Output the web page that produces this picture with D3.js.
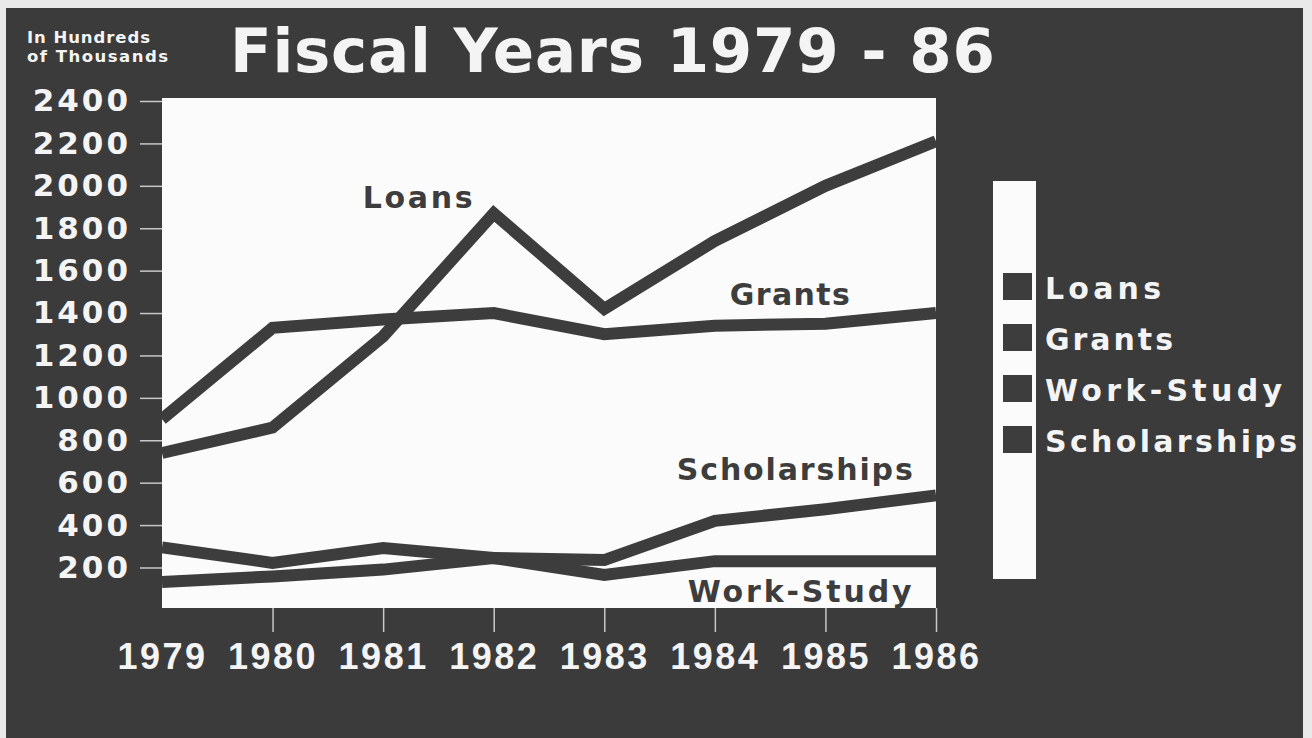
<!DOCTYPE html>
<html><head><meta charset="utf-8">
<script src="https://cdn.jsdelivr.net/npm/d3@7"></script>
<style>html,body{margin:0;padding:0;background:#3b3b3b;}svg{display:block;}</style>
</head><body>
<svg id="chart" width="1312" height="738"></svg>
<script>
// ---- data ----
const years = [1979, 1980, 1981, 1982, 1983, 1984, 1985, 1986];
const loans = [740, 860, 1290, 1870, 1420, 1740, 2000, 2210];
const grants = [900, 1330, 1370, 1400, 1300, 1340, 1350, 1400];
const workStudy = [295, 222, 292, 245, 165, 230, 230, 230];
const scholarships = [132, 158, 190, 245, 235, 420, 475, 540];
const seriesNames = ["Loans", "Grants", "Work-Study", "Scholarships"];
const yTickValues = [200, 400, 600, 800, 1000, 1200, 1400, 1600, 1800, 2000, 2200, 2400];
const titleText = "Fiscal Years 1979 - 86";
const unitLines = ["In Hundreds", "of Thousands"];

const series = [
  {name: seriesNames[0], values: loans},
  {name: seriesNames[1], values: grants},
  {name: seriesNames[2], values: workStudy},
  {name: seriesNames[3], values: scholarships}
];

// ---- layout ----
const W = 1312, H = 738;
const bg = "#3b3b3b", ink = "#3d3d3d", paper = "#fbfbfb", light = "#f4f4f4";
const plot = {left: 162, right: 936, top: 98, bottom: 608};
const boldFont = "'DejaVu Sans', sans-serif";

const svg = d3.select("#chart");
// frame
svg.append("rect").attr("width", W).attr("height", H).attr("fill", "#e9e9e9");
svg.append("rect").attr("x", 6).attr("y", 8).attr("width", 1297).attr("height", H - 8).attr("fill", bg);

const x = d3.scaleLinear().domain([1979, 1986]).range([plot.left, plot.right]);
const y = d3.scaleLinear().domain([0, 2400]).range([609.9, 101]);

// plot paper
svg.append("rect").attr("x", plot.left).attr("y", plot.top)
  .attr("width", plot.right - plot.left).attr("height", plot.bottom - plot.top)
  .attr("fill", paper);

// y axis
const yAxis = d3.axisLeft(y).tickValues(yTickValues).tickSize(22).tickPadding(12).tickFormat(d3.format("d"));
const gy = svg.append("g").attr("transform", `translate(${plot.left},0)`).call(yAxis);
gy.select(".domain").remove();
gy.selectAll(".tick line").attr("stroke", "#c8c8c8").attr("stroke-width", 1.5);
gy.selectAll(".tick text")
  .attr("fill", light).attr("x", -31)
  .style("font-family", boldFont).style("font-weight", "bold")
  .style("font-size", "31px").style("letter-spacing", "3px");

// x axis
const xAxis = d3.axisBottom(x).tickValues(years).tickSize(24).tickPadding(12).tickFormat(d3.format("d"));
const gx = svg.append("g").attr("transform", `translate(0,${plot.bottom})`).call(xAxis);
gx.select(".domain").remove();
gx.selectAll(".tick line").attr("stroke", "#c8c8c8").attr("stroke-width", 1.5)
  .attr("display", d => d === years[0] ? "none" : null);
gx.selectAll(".tick text")
  .attr("fill", light).attr("y", 61).attr("dy", 0)
  .style("font-family", "'Liberation Sans', Arial, sans-serif").style("font-weight", "bold")
  .style("font-size", "36px").style("letter-spacing", "2.5px");

// lines
const line = d3.line().x((d, i) => x(years[i])).y(d => y(d));
svg.append("g").selectAll("path").data(series).join("path")
  .attr("d", d => line(d.values))
  .attr("fill", "none").attr("stroke", ink).attr("stroke-width", 12)
  .attr("stroke-linejoin", "miter").attr("stroke-linecap", "butt");

// in-plot labels (positioned in data coordinates)
const annotations = [
  {text: seriesNames[0], yr: 1981.81, v: 1895, len: 110},
  {text: seriesNames[1], yr: 1985.22, v: 1438, len: 120},
  {text: seriesNames[3], yr: 1985.79, v: 613, len: 236},
  {text: seriesNames[2], yr: 1985.78, v: 36, len: 224}
];
svg.append("g").selectAll("text").data(annotations).join("text")
  .attr("x", d => x(d.yr) - d.len).attr("y", d => y(d.v))
  .attr("textLength", d => d.len).attr("lengthAdjust", "spacing")
  .attr("fill", ink)
  .style("font-family", boldFont).style("font-weight", "bold").style("font-size", "30px")
  .text(d => d.text);

// title
svg.append("text").attr("x", 230).attr("y", 72)
  .attr("textLength", 765).attr("lengthAdjust", "spacing")
  .attr("fill", light)
  .style("font-family", boldFont).style("font-weight", "bold").style("font-size", "61px")
  .text(titleText);

// units
svg.append("g").selectAll("text").data(unitLines).join("text")
  .attr("x", 27).attr("y", (d, i) => 43 + i * 19)
  .attr("textLength", (d, i) => i === 0 ? 123 : 141).attr("lengthAdjust", "spacing")
  .attr("fill", light)
  .style("font-family", boldFont).style("font-weight", "bold").style("font-size", "16.5px")
  .text(d => d);

// legend
const lg = svg.append("g");
lg.append("rect").attr("x", 993).attr("y", 181).attr("width", 43).attr("height", 398).attr("fill", paper);
const legItems = lg.selectAll("g.item").data(series).join("g").attr("class", "item")
  .attr("transform", (d, i) => `translate(0,${i * 51})`);
legItems.append("rect").attr("x", 1003).attr("y", 273).attr("width", 29).attr("height", 27).attr("fill", ink);
legItems.append("text").attr("x", 1045).attr("y", 299)
  .attr("textLength", d => ({"Loans": 116, "Grants": 128, "Work-Study": 237, "Scholarships": 252})[d.name])
  .attr("lengthAdjust", "spacing")
  .attr("fill", light)
  .style("font-family", boldFont).style("font-weight", "bold").style("font-size", "30px")
  .text(d => d.name);
</script>
</body></html>
